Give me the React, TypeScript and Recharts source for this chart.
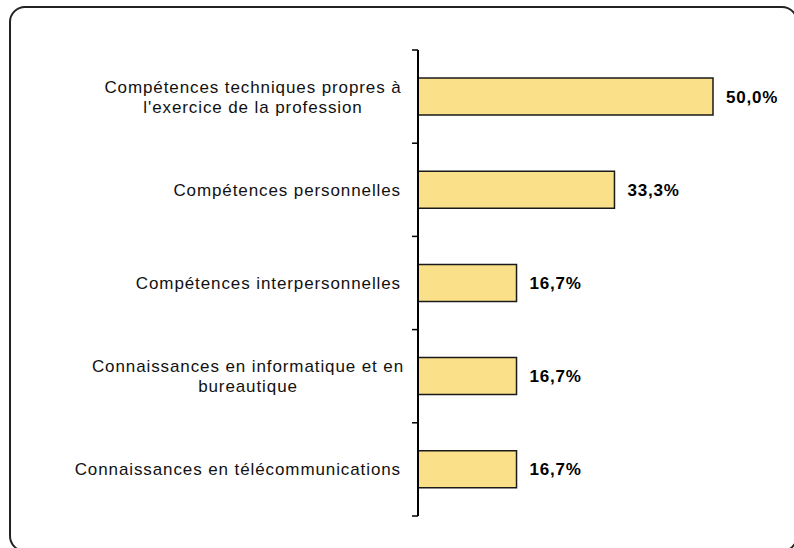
import { Bar, BarChart, XAxis, YAxis, LabelList } from "recharts";

const categories = [
  "Compétences techniques propres à\nl'exercice de la profession",
  "Compétences personnelles",
  "Compétences interpersonnelles",
  "Connaissances en informatique et en\nbureautique",
  "Connaissances en télécommunications",
];
const values = [50.0, 33.3, 16.7, 16.7, 16.7];
const xDomain = [0, 60];

const data = categories.map((name, i) => ({ name, value: values[i] }));

// how far left of the axis each wrapped label block is centred (Excel-like layout)
const wrapCenterOffset: Record<number, number> = { 0: 165, 3: 170 };

function CategoryTick(props: any) {
  const { x, y, payload, index, visibleTicksCount } = props;
  const half = payload.offset ?? 46.6;
  const lines = String(payload.value).split("\n");
  const lineH = 20;
  const isMulti = lines.length > 1;
  const tx = isMulti ? x - (wrapCenterOffset[index] ?? 170) : x - 17;
  const top = y - ((lines.length - 1) * lineH) / 2;
  return (
    <g>
      <line x1={x - 6} x2={x} y1={y - half} y2={y - half} stroke="#000" strokeWidth={1.5} />
      {index === visibleTicksCount - 1 && (
        <line x1={x - 6} x2={x} y1={y + half} y2={y + half} stroke="#000" strokeWidth={1.5} />
      )}
      <text
        x={tx}
        y={top}
        textAnchor={isMulti ? "middle" : "end"}
        dominantBaseline="central"
        fontSize={17}
        letterSpacing={0.9}
        fill="#111"
        fontFamily="'Liberation Sans', Arial, sans-serif"
      >
        {lines.map((l, i) => (
          <tspan key={i} x={tx} dy={i === 0 ? 0 : lineH}>
            {l}
          </tspan>
        ))}
      </text>
    </g>
  );
}

export default function App() {
  return (
    <div
      style={{
        position: "fixed",
        left: 0,
        top: 0,
        width: 794,
        height: 548,
        overflow: "hidden",
        background: "#fff",
        fontFamily: "'Liberation Sans', Arial, sans-serif",
      }}
    >
      <div
        style={{
          position: "absolute",
          left: 9,
          top: 6,
          width: 789,
          height: 546,
          boxSizing: "border-box",
          border: "2px solid #222",
          borderRadius: 16,
        }}
      />
      <div style={{ position: "absolute", left: 0, top: 0 }}>
        <BarChart
          width={794}
          height={548}
          data={data}
          layout="vertical"
          margin={{ top: 50, right: 22, bottom: 32, left: 0 }}
        >
          <XAxis type="number" domain={xDomain} hide />
          <YAxis
            type="category"
            dataKey="name"
            width={418}
            axisLine={{ stroke: "#000", strokeWidth: 2 }}
            tickLine={false}
            tickSize={0}
            tickMargin={0}
            interval={0}
            tick={<CategoryTick />}
          />
          <Bar
            dataKey="value"
            fill="#FBE08A"
            stroke="#1a1a1a"
            strokeWidth={1.5}
            barSize={37}
            isAnimationActive={false}
          >
            <LabelList
              dataKey="value"
              position="right"
              offset={13}
              formatter={(v: any) => Number(v).toFixed(1).replace(".", ",") + "%"}
              style={{ fontSize: 17, fontWeight: "bold", fill: "#000", letterSpacing: 0.8 }}
            />
          </Bar>
        </BarChart>
      </div>
    </div>
  );
}
